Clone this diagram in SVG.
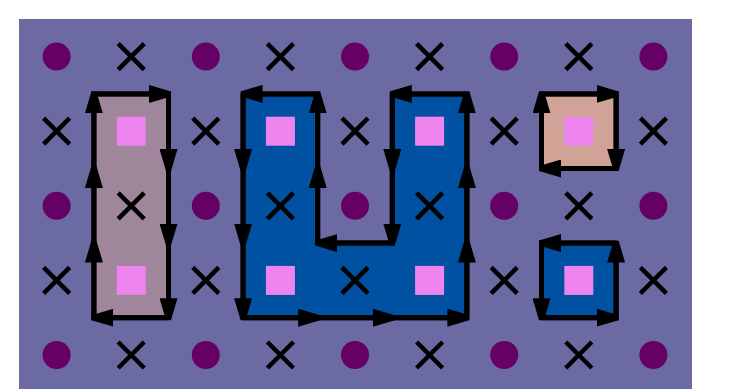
<svg xmlns="http://www.w3.org/2000/svg" width="731" height="389" viewBox="0 0 731 389">
<style>
.bg{fill:#6c6aa3}
.dot{fill:#650064}
.sq{fill:#ee84ee}
.x{stroke:#000;stroke-width:4.5;fill:none}
.loop{stroke:#000;stroke-width:5;stroke-linejoin:miter}
.e{stroke:#000;stroke-width:5;fill:none;marker-end:url(#ah)}
</style>
<defs>
<marker id="ah" viewBox="0 0 22 18" refX="19.5" refY="9" markerWidth="22" markerHeight="18" markerUnits="userSpaceOnUse" orient="auto">
<path d="M0,0 L22,6.5 L22,11.5 L0,18 Z" fill="#000"/>
</marker>
<path id="cx" d="M-13,-13 L13,13 M13,-13 L-13,13"/>
<circle id="cd" r="14"/>
<rect id="cs" x="-14.5" y="-14.5" width="29" height="29"/>
</defs>
<rect class="bg" x="19" y="19" width="673" height="380"/>
<g id="loop-a"><rect class="loop" x="93.9" y="93.9" width="74.6" height="223.8" fill="#a0869a"/></g>
<g id="loop-b"><polygon class="loop" fill="#0051a2" points="243.1,93.9 317.7,93.9 317.7,243.1 392.3,243.1 392.3,93.9 466.9,93.9 466.9,317.7 243.1,317.7"/></g>
<g id="loop-c"><rect class="loop" x="541.5" y="93.9" width="74.6" height="74.6" fill="#d1a296"/></g>
<g id="loop-d"><rect class="loop" x="541.5" y="243.1" width="74.6" height="74.6" fill="#0051a2"/></g>
<g id="dots" class="dot">
<use href="#cd" x="56.6" y="56.6"/><use href="#cd" x="205.8" y="56.6"/><use href="#cd" x="355" y="56.6"/><use href="#cd" x="504.2" y="56.6"/><use href="#cd" x="653.4" y="56.6"/>
<use href="#cd" x="56.6" y="205.8"/><use href="#cd" x="205.8" y="205.8"/><use href="#cd" x="355" y="205.8"/><use href="#cd" x="504.2" y="205.8"/><use href="#cd" x="653.4" y="205.8"/>
<use href="#cd" x="56.6" y="355"/><use href="#cd" x="205.8" y="355"/><use href="#cd" x="355" y="355"/><use href="#cd" x="504.2" y="355"/><use href="#cd" x="653.4" y="355"/>
</g>
<g id="squares" class="sq">
<use href="#cs" x="131.2" y="131.2"/><use href="#cs" x="280.4" y="131.2"/><use href="#cs" x="429.6" y="131.2"/><use href="#cs" x="578.8" y="131.2"/>
<use href="#cs" x="131.2" y="280.4"/><use href="#cs" x="280.4" y="280.4"/><use href="#cs" x="429.6" y="280.4"/><use href="#cs" x="578.8" y="280.4"/>
</g>
<g id="crosses" class="x">
<use href="#cx" x="131.2" y="56.6"/><use href="#cx" x="280.4" y="56.6"/><use href="#cx" x="429.6" y="56.6"/><use href="#cx" x="578.8" y="56.6"/>
<use href="#cx" x="56.6" y="131.2"/><use href="#cx" x="205.8" y="131.2"/><use href="#cx" x="355" y="131.2"/><use href="#cx" x="504.2" y="131.2"/><use href="#cx" x="653.4" y="131.2"/>
<use href="#cx" x="131.2" y="205.8"/><use href="#cx" x="280.4" y="205.8"/><use href="#cx" x="429.6" y="205.8"/><use href="#cx" x="578.8" y="205.8"/>
<use href="#cx" x="56.6" y="280.4"/><use href="#cx" x="205.8" y="280.4"/><use href="#cx" x="355" y="280.4"/><use href="#cx" x="504.2" y="280.4"/><use href="#cx" x="653.4" y="280.4"/>
<use href="#cx" x="131.2" y="355"/><use href="#cx" x="280.4" y="355"/><use href="#cx" x="429.6" y="355"/><use href="#cx" x="578.8" y="355"/>
</g>
<g id="connectors">
<!-- loop A -->
<line class="e" x1="93.9" y1="317.7" x2="93.9" y2="243.1"/>
<line class="e" x1="93.9" y1="243.1" x2="93.9" y2="168.5"/>
<line class="e" x1="93.9" y1="168.5" x2="93.9" y2="93.9"/>
<line class="e" x1="93.9" y1="93.9" x2="168.5" y2="93.9"/>
<line class="e" x1="168.5" y1="93.9" x2="168.5" y2="168.5"/>
<line class="e" x1="168.5" y1="168.5" x2="168.5" y2="243.1"/>
<line class="e" x1="168.5" y1="243.1" x2="168.5" y2="317.7"/>
<line class="e" x1="168.5" y1="317.7" x2="93.9" y2="317.7"/>
<!-- loop B -->
<line class="e" x1="317.7" y1="93.9" x2="243.1" y2="93.9"/>
<line class="e" x1="243.1" y1="93.9" x2="243.1" y2="168.5"/>
<line class="e" x1="243.1" y1="168.5" x2="243.1" y2="243.1"/>
<line class="e" x1="243.1" y1="243.1" x2="243.1" y2="317.7"/>
<line class="e" x1="243.1" y1="317.7" x2="317.7" y2="317.7"/>
<line class="e" x1="317.7" y1="317.7" x2="392.3" y2="317.7"/>
<line class="e" x1="392.3" y1="317.7" x2="466.9" y2="317.7"/>
<line class="e" x1="466.9" y1="317.7" x2="466.9" y2="243.1"/>
<line class="e" x1="466.9" y1="243.1" x2="466.9" y2="168.5"/>
<line class="e" x1="466.9" y1="168.5" x2="466.9" y2="93.9"/>
<line class="e" x1="466.9" y1="93.9" x2="392.3" y2="93.9"/>
<line class="e" x1="392.3" y1="93.9" x2="392.3" y2="168.5"/>
<line class="e" x1="392.3" y1="168.5" x2="392.3" y2="243.1"/>
<line class="e" x1="392.3" y1="243.1" x2="317.7" y2="243.1"/>
<line class="e" x1="317.7" y1="243.1" x2="317.7" y2="168.5"/>
<line class="e" x1="317.7" y1="168.5" x2="317.7" y2="93.9"/>
<!-- loop C -->
<line class="e" x1="541.5" y1="93.9" x2="616.1" y2="93.9"/>
<line class="e" x1="616.1" y1="93.9" x2="616.1" y2="168.5"/>
<line class="e" x1="616.1" y1="168.5" x2="541.5" y2="168.5"/>
<line class="e" x1="541.5" y1="168.5" x2="541.5" y2="93.9"/>
<!-- loop D -->
<line class="e" x1="616.1" y1="243.1" x2="541.5" y2="243.1"/>
<line class="e" x1="541.5" y1="243.1" x2="541.5" y2="317.7"/>
<line class="e" x1="541.5" y1="317.7" x2="616.1" y2="317.7"/>
<line class="e" x1="616.1" y1="317.7" x2="616.1" y2="243.1"/>
</g>
</svg>
